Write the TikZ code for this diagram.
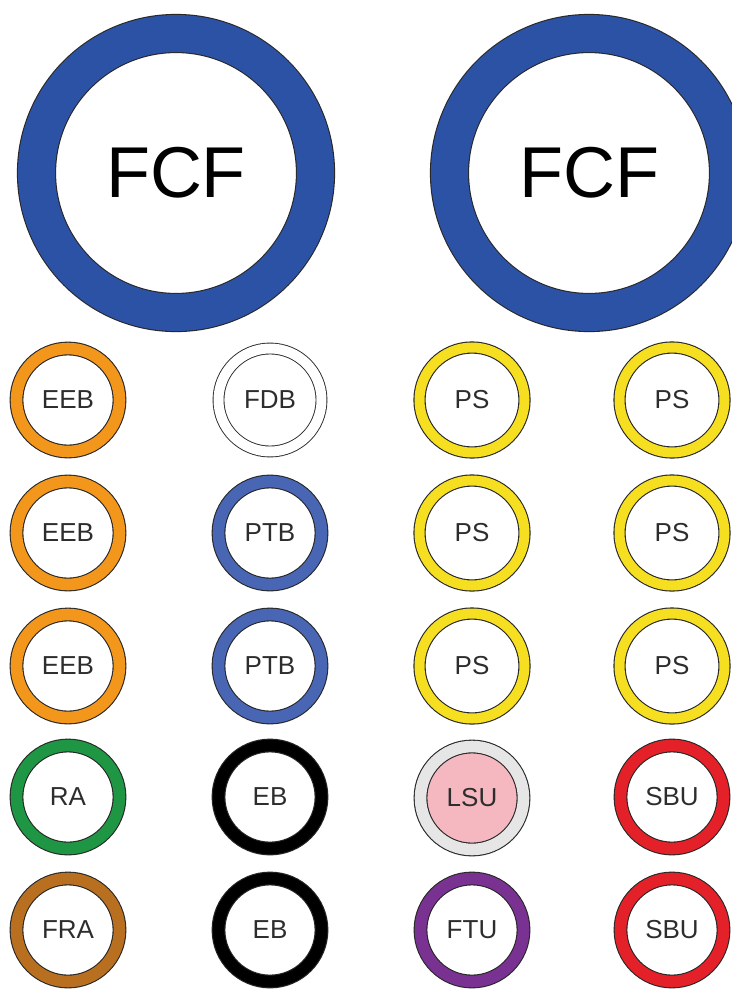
\documentclass[tikz,border=0pt]{standalone}
\usepackage{fontspec}
\setmainfont{Liberation Sans}
\definecolor{bigblue}{RGB}{44,82,166}
\definecolor{ptbblue}{RGB}{72,102,180}
\definecolor{eeborange}{RGB}{243,150,28}
\definecolor{psyellow}{RGB}{246,222,32}
\definecolor{ragreen}{RGB}{30,150,68}
\definecolor{frabrown}{RGB}{184,112,32}
\definecolor{ftupurple}{RGB}{122,50,146}
\definecolor{sbured}{RGB}{228,32,40}
\definecolor{lsupink}{RGB}{245,184,192}
\definecolor{lsugray}{RGB}{230,230,230}
\definecolor{edge}{RGB}{40,40,40}
\definecolor{txt}{RGB}{45,45,45}
\tikzset{
  ringbase/.style={circle, draw=edge, line width=1.1pt, fill=white, inner sep=0pt,
    minimum size=103pt, double distance=11.6pt, text=txt,
    font=\fontsize{26}{26}\selectfont},
  ring/.style={ringbase, double=#1},
  psring/.style={ringbase, double=psyellow, double distance=10pt, minimum size=105pt},
  bigring/.style={circle, draw=edge, line width=1.1pt, fill=white, inner sep=0pt,
    minimum size=279pt, double=bigblue, double distance=37pt, text=black,
    font=\fontsize{72}{72}\selectfont},
}
\begin{document}
\begin{tikzpicture}[x=1pt,y=-1pt]
\useasboundingbox (0,0) rectangle (731,990);
\fill[white] (0,0) rectangle (731,990);
% big circles
\node[bigring] (fcfL) at (176,173) {FCF};
\node[bigring] (fcfR) at (589,173) {FCF};
% column 1
\node[ring=eeborange] (eeb1) at (68,400) {EEB};
\node[ring=eeborange] (eeb2) at (68,533) {EEB};
\node[ring=eeborange] (eeb3) at (68,666) {EEB};
\node[ring=ragreen] (ra) at (68,797) {RA};
\node[ring=frabrown] (fra) at (68,930) {FRA};
% column 2
\node[ring=white, double distance=10pt, line width=0.9pt] (fdb) at (270,400) {FDB};
\node[ring=ptbblue] (ptb1) at (270,533) {PTB};
\node[ring=ptbblue] (ptb2) at (270,666) {PTB};
\node[ring=black] (eb1) at (270,797) {EB};
\node[ring=black] (eb2) at (270,930) {EB};
% column 3
\node[psring] (ps1) at (472,400) {PS};
\node[psring] (ps2) at (472,533) {PS};
\node[psring] (ps3) at (472,666) {PS};
\node[ring=lsugray, fill=lsupink] (lsu) at (472,798) {LSU};
\node[ring=ftupurple] (ftu) at (472,930) {FTU};
% column 4
\node[psring] (ps4) at (672,400) {PS};
\node[psring] (ps5) at (672,533) {PS};
\node[psring] (ps6) at (672,666) {PS};
\node[ring=sbured] (sbu1) at (672,797) {SBU};
\node[ring=sbured] (sbu2) at (672,930) {SBU};
\end{tikzpicture}
\end{document}
